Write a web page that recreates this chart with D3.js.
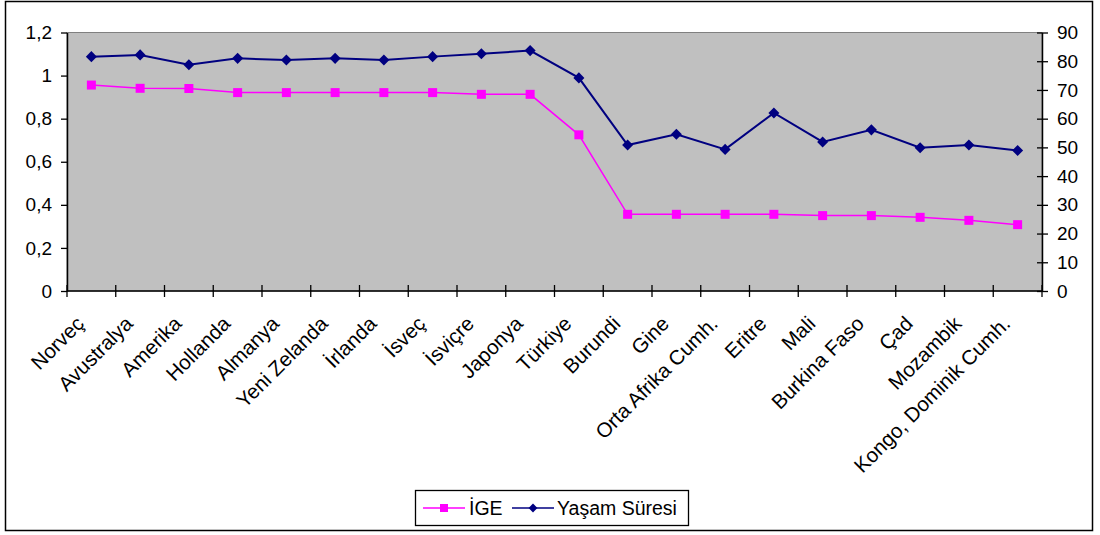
<!DOCTYPE html>
<html>
<head>
<meta charset="utf-8">
<script src="https://cdn.jsdelivr.net/npm/d3@7/dist/d3.min.js"></script>
<style>
  html, body { margin: 0; padding: 0; background: #fff; }
  svg { display: block; }
  text { font-family: "Liberation Sans", Arial, sans-serif; fill: #000; }
</style>
</head>
<body>
<svg id="chart" width="1100" height="535"></svg>
<script>
const categories = ["Norveç","Avustralya","Amerika","Hollanda","Almanya","Yeni Zelanda","İrlanda","İsveç","İsviçre","Japonya","Türkiye","Burundi","Gine","Orta Afrika Cumh.","Eritre","Mali","Burkina Faso","Çad","Mozambik","Kongo, Dominik Cumh."];
const igeValues = [0.956,0.941,0.940,0.921,0.921,0.921,0.921,0.921,0.913,0.913,0.725,0.356,0.356,0.356,0.356,0.350,0.350,0.342,0.328,0.308];
const lifeValues = [81.6,82.2,78.8,81.0,80.4,81.0,80.4,81.6,82.6,83.7,74.2,50.8,54.6,49.3,62.0,51.9,56.1,49.9,50.8,48.9];
const leftTicks = [0,0.2,0.4,0.6,0.8,1.0,1.2];
const leftTickLabels = ["0","0,2","0,4","0,6","0,8","1","1,2"];
const rightTicks = [0,10,20,30,40,50,60,70,80,90];
const seriesNames = ["İGE","Yaşam Süresi"];

const svg = d3.select("#chart");
const plot = {left: 67, right: 1042, top: 32.5, bottom: 291};
const FONT = 19;
const pink = "#FF00FF", navy = "#000080";

// outer border
svg.append("rect").attr("x", 5.5).attr("y", 1.5).attr("width", 1087).attr("height", 529)
  .attr("fill", "#fff").attr("stroke", "#000").attr("stroke-width", 1.5);

const x = d3.scaleBand().domain(categories).range([plot.left, plot.right]);
const cx = d => x(d) + x.bandwidth() / 2;
const yL = d3.scaleLinear().domain([0, 1.2]).range([plot.bottom, plot.top]);
const yR = d3.scaleLinear().domain([0, 90]).range([plot.bottom, plot.top]);

// plot area
svg.append("rect").attr("x", plot.left).attr("y", plot.top)
  .attr("width", plot.right - plot.left).attr("height", plot.bottom - plot.top)
  .attr("fill", "#C0C0C0").attr("stroke", "#808080").attr("stroke-width", 1);

// left axis
const gL = svg.append("g").attr("transform", `translate(${plot.left},0)`)
  .call(d3.axisLeft(yL).tickValues(leftTicks).tickFormat((d, i) => leftTickLabels[i]).tickSizeInner(6).tickSizeOuter(0).tickPadding(8));
gL.selectAll("line").attr("x2", -6).attr("x1", 0).attr("stroke", "#000").attr("stroke-width", 1.3);
gL.selectAll("text").style("font-size", FONT + "px").attr("x", -15);
gL.select(".domain").attr("stroke", "#000").attr("stroke-width", 1.5);

// right axis
const gR = svg.append("g").attr("transform", `translate(${plot.right},0)`)
  .call(d3.axisRight(yR).tickValues(rightTicks).tickSizeInner(6).tickSizeOuter(0).tickPadding(8));
gR.selectAll("line").attr("x1", -5).attr("x2", 6).attr("stroke", "#000").attr("stroke-width", 1.3);
gR.selectAll("text").style("font-size", FONT + "px").attr("x", 15);
gR.select(".domain").attr("stroke", "#000").attr("stroke-width", 1.5);

// x axis
const gX = svg.append("g").attr("transform", `translate(0,${plot.bottom})`);
gX.append("line").attr("x1", plot.left).attr("x2", plot.right).attr("y1", 0).attr("y2", 0)
  .attr("stroke", "#000").attr("stroke-width", 1.5);
const bounds = categories.map(d => x(d)).concat([plot.right]);
gX.selectAll("line.tick").data(bounds).enter().append("line").attr("class", "tick")
  .attr("x1", d => d).attr("x2", d => d).attr("y1", -6).attr("y2", 6)
  .attr("stroke", "#000").attr("stroke-width", 1.3);
gX.selectAll("text.lab").data(categories).enter().append("text").attr("class", "lab")
  .attr("transform", d => `translate(${cx(d) - 6},34) rotate(-45)`)
  .attr("text-anchor", "end").style("font-size", "20.5px").text(d => d);

// lines
const lineL = d3.line().x((d, i) => cx(categories[i])).y(d => yL(d));
const lineR = d3.line().x((d, i) => cx(categories[i])).y(d => yR(d));
svg.append("path").datum(igeValues).attr("d", lineL).attr("fill", "none").attr("stroke", pink).attr("stroke-width", 1.5);
svg.append("path").datum(lifeValues).attr("d", lineR).attr("fill", "none").attr("stroke", navy).attr("stroke-width", 2);

const sq = d3.symbol().type(d3.symbolSquare).size(81);
const dia = d3.symbol().type(d3.symbolDiamond2).size(78);
svg.selectAll("path.sq").data(igeValues).enter().append("path").attr("class", "sq")
  .attr("d", sq).attr("transform", (d, i) => `translate(${cx(categories[i])},${yL(d)})`).attr("fill", pink);
svg.selectAll("path.dia").data(lifeValues).enter().append("path").attr("class", "dia")
  .attr("d", dia).attr("transform", (d, i) => `translate(${cx(categories[i])},${yR(d)})`).attr("fill", navy);

// legend
const lg = svg.append("g");
lg.append("rect").attr("x", 415.5).attr("y", 490.5).attr("width", 273).attr("height", 35)
  .attr("fill", "#fff").attr("stroke", "#000").attr("stroke-width", 1.3);
const ly = 508;
lg.append("line").attr("x1", 423).attr("x2", 465).attr("y1", ly).attr("y2", ly).attr("stroke", pink).attr("stroke-width", 1.5);
lg.append("path").attr("d", d3.symbol().type(d3.symbolSquare).size(64)).attr("transform", `translate(444,${ly})`).attr("fill", pink);
lg.append("text").attr("x", 469).attr("y", ly).attr("dy", "0.35em").style("font-size", "19.5px").text(seriesNames[0]);
lg.append("line").attr("x1", 512).attr("x2", 554).attr("y1", ly).attr("y2", ly).attr("stroke", navy).attr("stroke-width", 1.5);
lg.append("path").attr("d", d3.symbol().type(d3.symbolDiamond2).size(50)).attr("transform", `translate(533,${ly})`).attr("fill", navy);
lg.append("text").attr("x", 557).attr("y", ly).attr("dy", "0.35em").style("font-size", "19.5px").text(seriesNames[1]);
</script>
</body>
</html>
